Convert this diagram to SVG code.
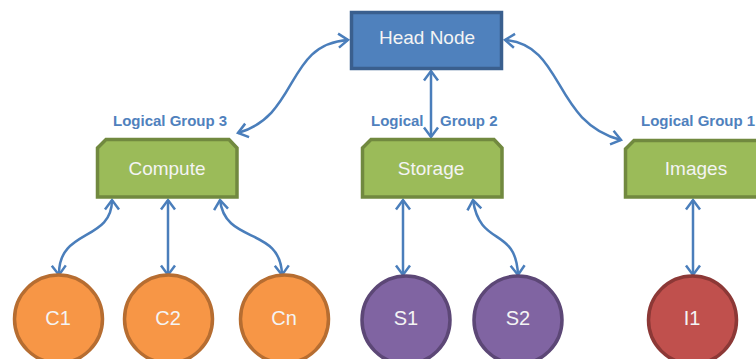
<svg xmlns="http://www.w3.org/2000/svg" width="756" height="359" viewBox="0 0 756 359">
<style>
.lbl{font-family:"Liberation Sans",Arial,sans-serif;font-size:15px;font-weight:bold;fill:#4F81BD}
.nt{font-family:"Liberation Sans",Arial,sans-serif;font-size:19px;fill:#F4F4F4;text-anchor:middle}
.ct{font-family:"Liberation Sans",Arial,sans-serif;font-size:20px;fill:#F4F4F4;text-anchor:middle}
.green{fill:#9BBB59;stroke:#71893F;stroke-width:3.5;stroke-linejoin:miter}
.orange{fill:#F79646;stroke:#B66D31;stroke-width:3.5}
.purple{fill:#8064A2;stroke:#5C4776;stroke-width:3.5}
.red{fill:#C0504D;stroke:#8C3836;stroke-width:3.5}
.conn{fill:none;stroke:#4A7EBB;stroke-width:2.5;marker-start:url(#ah);marker-end:url(#ah)}
</style>
<defs>
<marker id="ah" markerUnits="userSpaceOnUse" markerWidth="20" markerHeight="20" refX="10" refY="10" orient="auto-start-reverse" overflow="visible">
<path d="M0.5,3 L10,10 L0.5,17" fill="none" stroke="#4A7EBB" stroke-width="2.5"/>
</marker>
</defs>

<g id="connectors">
<path class="conn" d="M238,133 C300,115 285,44 348,40"/>
<path class="conn" d="M505,40 C565,45 552,122 621,140"/>
<path class="conn" d="M431,71 L431,137"/>
<path class="conn" d="M112,200 C112,242 58,228 59,275"/>
<path class="conn" d="M168,200 L168,275"/>
<path class="conn" d="M220,200 C225,245 281,226 282,275"/>
<path class="conn" d="M403,200 L403,275"/>
<path class="conn" d="M473,200 C480,248 516,226 518,275"/>
<path class="conn" d="M693,200 L693,275"/>
</g>

<g id="head-node">
<rect x="351.5" y="12.5" width="150" height="56" fill="#4F81BD" stroke="#3A5F8E" stroke-width="3.5"/>
<text class="nt" x="427" y="44">Head Node</text>
</g>

<g id="label-group3"><text class="lbl" x="113" y="126">Logical Group 3</text></g>
<g id="label-group2"><text class="lbl" y="126"><tspan x="371">Logical</tspan><tspan x="440">Group 2</tspan></text></g>
<g id="label-group1"><text class="lbl" x="641" y="126">Logical Group 1</text></g>

<g id="compute">
<path class="green" d="M106,139.5 L229,139.5 L237,148 L237,197 L97.5,197 L97.5,148 Z"/>
<text class="nt" x="167" y="175">Compute</text>
</g>
<g id="storage">
<path class="green" d="M371,139.5 L494,139.5 L502,148 L502,197 L362.5,197 L362.5,148 Z"/>
<text class="nt" x="431" y="175">Storage</text>
</g>
<g id="images">
<path class="green" d="M634,140.5 L758,140.5 L766,149 L766,197 L625.5,197 L625.5,149 Z"/>
<text class="nt" x="696" y="175">Images</text>
</g>

<g id="c1"><circle class="orange" cx="58.5" cy="319" r="44"/><text class="ct" x="58" y="325">C1</text></g>
<g id="c2"><circle class="orange" cx="168.5" cy="319" r="44"/><text class="ct" x="168" y="325">C2</text></g>
<g id="cn"><circle class="orange" cx="284.5" cy="319" r="44"/><text class="ct" x="284" y="325">Cn</text></g>
<g id="s1"><circle class="purple" cx="406" cy="320" r="44"/><text class="ct" x="406" y="325">S1</text></g>
<g id="s2"><circle class="purple" cx="518" cy="320" r="44"/><text class="ct" x="518" y="325">S2</text></g>
<g id="i1"><circle class="red" cx="692.5" cy="320" r="44"/><text class="ct" x="692" y="325">I1</text></g>
</svg>
